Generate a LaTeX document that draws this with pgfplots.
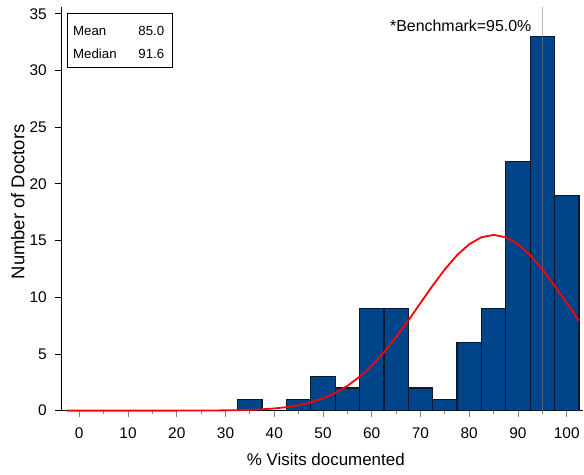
\documentclass[border=0pt]{standalone}
\usepackage{fontspec}
\setmainfont{Liberation Sans}
\usepackage{pgfplots}
\pgfplotsset{compat=1.18}
\definecolor{barblue}{RGB}{0,68,138}
\definecolor{baredge}{RGB}{10,24,48}
\begin{document}
\begin{tikzpicture}
\begin{axis}[
  scale only axis, width=522.3bp, height=403.6bp,
  xmin=-3.75, xmax=103.4, ymin=0, ymax=35.6,
  axis lines*=left,
  axis line style={black, line width=0.8bp},
  clip=false,
  xtick={0,10,...,100}, minor xtick={5,15,...,95},
  ytick={0,5,...,35},
  tick align=outside,
  major tick length=6bp, minor tick length=3bp,
  xtick style={gray, line width=0.8bp},
  ytick style={black, line width=0.8bp},
  /pgf/number format/assume math mode=true,
  ticklabel style={font=\fontsize{15.5}{18}\selectfont, inner sep=0pt},
  xticklabel style={anchor=north, yshift=-11bp},
  yticklabel style={anchor=east, xshift=-8bp},
  xlabel={\% Visits documented},
  ylabel={Number of Doctors},
  xlabel style={font=\fontsize{17}{20}\selectfont, at={(axis description cs:0.507,-0.1348)}, anchor=base, inner sep=0pt},
  ylabel style={font=\fontsize{18.5}{22}\selectfont, at={(axis description cs:-0.0699,0.517)}, anchor=base, inner sep=0pt},
]
\addplot[ybar, bar width=5, bar shift=0pt, fill=barblue, draw=baredge, line width=1.2bp]
  coordinates {(35,1) (45,1) (50,3) (55,2) (60,9) (65,9) (70,2) (75,1)
               (80,6) (85,9) (90,22) (95,33) (100,19)};
\addplot[gray, opacity=0.55, line width=1.5bp, no marks] coordinates {(95,0) (95,35.6)};
\addplot[red, line width=1.8bp, no marks] coordinates {
  (-2.5,0) (20,0) (25,0.006) (30,0.021) (32.5,0.038) (35,0.067) (37.5,0.114)
  (40,0.188) (42.5,0.303) (45,0.475) (47.5,0.724) (50,1.074) (52.5,1.553)
  (55,2.18) (57.5,2.985) (60,3.97) (62.5,5.14) (65,6.48) (67.5,7.95)
  (70,9.49) (72.5,11.03) (75,12.46) (77.5,13.71) (80,14.68) (82.5,15.29)
  (85,15.5) (87.5,15.29) (90,14.68) (92.5,13.71) (95,12.46) (97.5,11.03)
  (100,9.49) (102.5,7.95)};
\draw[black, line width=0.8bp] (axis cs:-2.52,35.0) rectangle (axis cs:19.15,30.26);
\node[anchor=base west, inner sep=0pt, font=\fontsize{13.3}{16}\selectfont] at (axis cs:-1.29,33.06) {Mean};
\node[anchor=base east, inner sep=0pt, font=\fontsize{13.3}{16}\selectfont] at (axis cs:17.48,33.06) {85.0};
\node[anchor=base west, inner sep=0pt, font=\fontsize{13.3}{16}\selectfont] at (axis cs:-1.29,31.03) {Median};
\node[anchor=base east, inner sep=0pt, font=\fontsize{13.3}{16}\selectfont] at (axis cs:17.48,31.03) {91.6};
\node[anchor=base east, inner sep=0pt, font=\fontsize{16}{19}\selectfont] at (axis cs:92.8,33.4) {*Benchmark=95.0\%};
\coordinate (O) at (rel axis cs:0,0);
\end{axis}
\pgfresetboundingbox
\path ([shift={(-61bp,-64.4bp)}]O) rectangle ++(584bp,475bp);
\end{tikzpicture}
\end{document}
